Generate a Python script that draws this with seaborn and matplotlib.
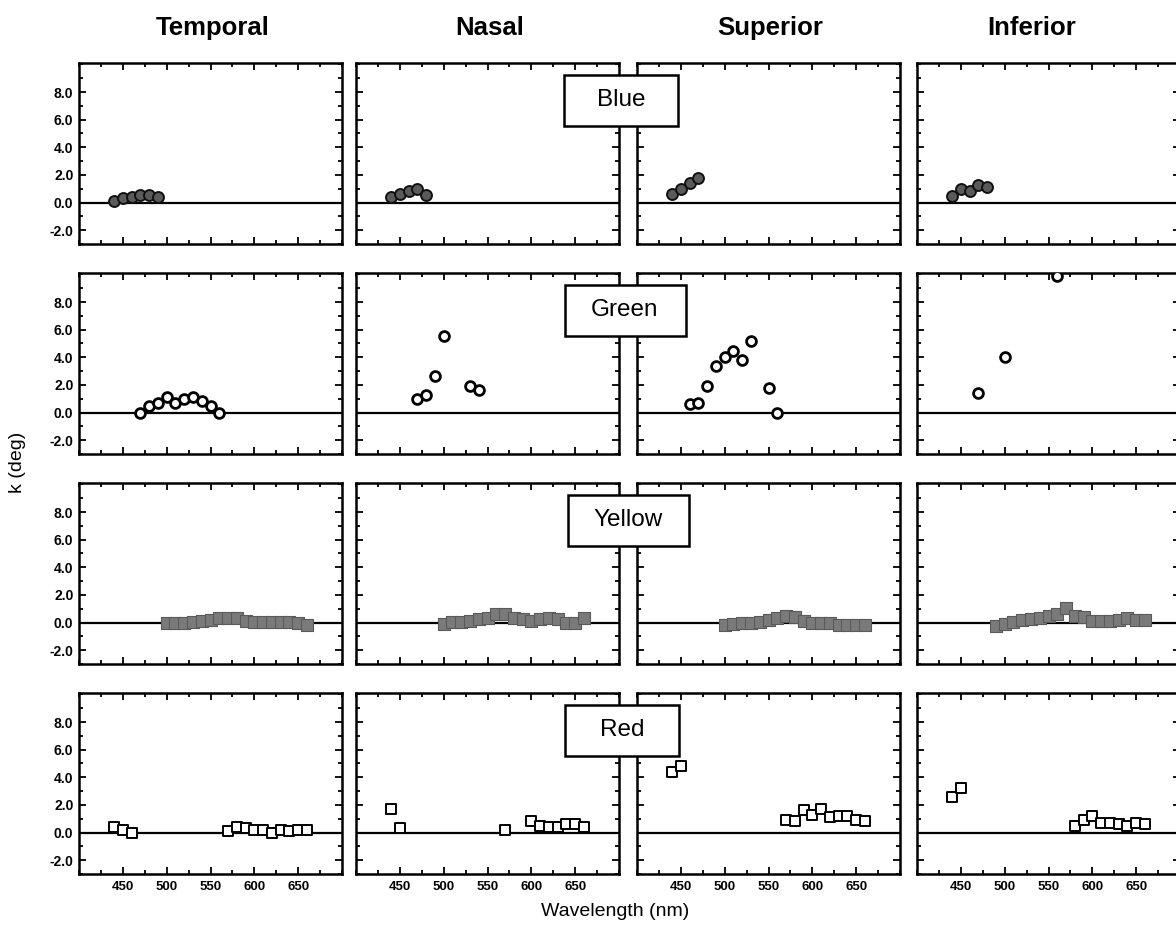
import matplotlib
matplotlib.use("Agg")
import matplotlib.pyplot as plt
import seaborn as sns
import pandas as pd
from matplotlib.ticker import MultipleLocator, FormatStrFormatter
from matplotlib.patches import Rectangle

# ---------------- data ----------------
regions = ["Temporal", "Nasal", "Superior", "Inferior"]
lights = ["Blue", "Green", "Yellow", "Red"]

blue_temporal_wl = [440, 450, 460, 470, 480, 490]
blue_temporal_k = [0.1, 0.3, 0.4, 0.55, 0.55, 0.4]
blue_nasal_wl = [440, 450, 460, 470, 480]
blue_nasal_k = [0.4, 0.6, 0.85, 1.0, 0.55]
blue_superior_wl = [440, 450, 460, 470]
blue_superior_k = [0.65, 1.0, 1.45, 1.8]
blue_inferior_wl = [440, 450, 460, 470, 480]
blue_inferior_k = [0.45, 1.0, 0.85, 1.3, 1.1]

green_temporal_wl = [470, 480, 490, 500, 510, 520, 530, 540, 550, 560]
green_temporal_k = [0.0, 0.45, 0.7, 1.1, 0.7, 0.95, 1.1, 0.8, 0.45, 0.0]
green_nasal_wl = [470, 480, 490, 500, 530, 540]
green_nasal_k = [1.0, 1.3, 2.65, 5.55, 1.95, 1.65]
green_superior_wl = [460, 470, 480, 490, 500, 510, 520, 530, 550, 560]
green_superior_k = [0.6, 0.7, 1.9, 3.4, 4.05, 4.45, 3.8, 5.15, 1.8, 0.0]
green_inferior_wl = [470, 500, 560]
green_inferior_k = [1.4, 4.05, 9.9]

yellow_wl = [500, 510, 520, 530, 540, 550, 560, 570, 580, 590,
             600, 610, 620, 630, 640, 650, 660]
yellow_temporal_k = [0.0, 0.0, 0.0, 0.05, 0.1, 0.2, 0.3, 0.35, 0.35, 0.1,
                     0.05, 0.05, 0.05, 0.05, 0.05, 0.0, -0.15]
yellow_nasal_k = [-0.1, 0.05, 0.05, 0.1, 0.25, 0.35, 0.6, 0.6, 0.35, 0.25,
                  0.1, 0.25, 0.3, 0.25, -0.05, -0.05, 0.3]
yellow_superior_k = [-0.2, -0.1, -0.05, -0.05, 0.05, 0.15, 0.35, 0.45, 0.4, 0.1,
                     0.0, -0.05, -0.05, -0.15, -0.2, -0.2, -0.2]
yellow_inferior_wl = [490, 500, 510, 520, 530, 540, 550, 560, 570, 580,
                      590, 600, 610, 620, 630, 640, 650, 660]
yellow_inferior_k = [-0.25, -0.1, 0.05, 0.2, 0.25, 0.3, 0.45, 0.6, 1.05, 0.5,
                     0.4, 0.1, 0.1, 0.1, 0.15, 0.3, 0.15, 0.15]

red_temporal_wl = [440, 450, 460, 570, 580, 590, 600, 610, 620, 630, 640, 650, 660]
red_temporal_k = [0.4, 0.2, 0.0, 0.1, 0.4, 0.3, 0.2, 0.2, 0.0, 0.2, 0.1, 0.2, 0.2]
red_nasal_wl = [440, 450, 570, 600, 610, 620, 630, 640, 650, 660]
red_nasal_k = [1.7, 0.3, 0.2, 0.8, 0.5, 0.4, 0.4, 0.6, 0.6, 0.4]
red_superior_wl = [440, 450, 570, 580, 590, 600, 610, 620, 630, 640, 650, 660]
red_superior_k = [4.4, 4.8, 0.9, 0.8, 1.6, 1.3, 1.7, 1.1, 1.2, 1.2, 0.9, 0.8]
red_inferior_wl = [440, 450, 580, 590, 600, 610, 620, 630, 640, 650, 660]
red_inferior_k = [2.6, 3.2, 0.5, 0.9, 1.2, 0.7, 0.7, 0.6, 0.5, 0.7, 0.6]

x_major = [450, 500, 550, 600, 650]
y_major = [-2, 0, 2, 4, 6, 8]

series = {
    ("Blue", "Temporal"): (blue_temporal_wl, blue_temporal_k),
    ("Blue", "Nasal"): (blue_nasal_wl, blue_nasal_k),
    ("Blue", "Superior"): (blue_superior_wl, blue_superior_k),
    ("Blue", "Inferior"): (blue_inferior_wl, blue_inferior_k),
    ("Green", "Temporal"): (green_temporal_wl, green_temporal_k),
    ("Green", "Nasal"): (green_nasal_wl, green_nasal_k),
    ("Green", "Superior"): (green_superior_wl, green_superior_k),
    ("Green", "Inferior"): (green_inferior_wl, green_inferior_k),
    ("Yellow", "Temporal"): (yellow_wl, yellow_temporal_k),
    ("Yellow", "Nasal"): (yellow_wl, yellow_nasal_k),
    ("Yellow", "Superior"): (yellow_wl, yellow_superior_k),
    ("Yellow", "Inferior"): (yellow_inferior_wl, yellow_inferior_k),
    ("Red", "Temporal"): (red_temporal_wl, red_temporal_k),
    ("Red", "Nasal"): (red_nasal_wl, red_nasal_k),
    ("Red", "Superior"): (red_superior_wl, red_superior_k),
    ("Red", "Inferior"): (red_inferior_wl, red_inferior_k),
}

rows = []
for (light, region), (wl, k) in series.items():
    for w, v in zip(wl, k):
        rows.append({"light": light, "region": region, "wl": w, "k": v})
df = pd.DataFrame(rows)

styles = {
    "Blue": dict(marker="o", s=62, color="#5a5a5a", edgecolor="#111111", linewidth=1.4),
    "Green": dict(marker="o", s=50, color="white", edgecolor="black", linewidth=2.0),
    "Yellow": dict(marker="s", s=78, color="#7a7a7a", edgecolor="#5a5a5a", linewidth=0.8),
    "Red": dict(marker="s", s=48, color="white", edgecolor="black", linewidth=1.4),
}

# ---------------- figure ----------------
sns.set_style("ticks")
plt.rcParams["font.family"] = ["Liberation Sans", "DejaVu Sans"]
plt.rcParams["text.color"] = "black"
plt.rcParams["xtick.color"] = "black"
plt.rcParams["ytick.color"] = "black"
plt.rcParams["axes.labelcolor"] = "black"

W, H = 1176, 932
fig = plt.figure(figsize=(W / 100, H / 100), dpi=100)

col_left = [79, 356, 637, 917]
row_top = [63, 273, 483, 693]
pw, ph = 263, 181

box_cx = [621, 625, 628, 622]
box_w = [114, 121, 121, 114]
box_h = 51

for i, light in enumerate(lights):
    for j, region in enumerate(regions):
        ax = fig.add_axes([col_left[j] / W, 1 - (row_top[i] + ph) / H, pw / W, ph / H])
        ax.axhline(0, color="black", lw=1.6, zorder=1)
        sub = df[(df.light == light) & (df.region == region)]
        sns.scatterplot(data=sub, x="wl", y="k", ax=ax, legend=False, zorder=3,
                        **styles[light])
        ax.set_xlim(400, 700)
        ax.set_ylim(-3, 10.1)
        ax.set_xticks(x_major)
        ax.set_yticks(y_major)
        ax.xaxis.set_minor_locator(MultipleLocator(25))
        ax.yaxis.set_minor_locator(MultipleLocator(1))
        ax.yaxis.set_major_formatter(FormatStrFormatter("%.1f"))
        ax.tick_params(which="both", direction="in", top=True, right=True, width=1.3,
                       colors="black")
        ax.tick_params(which="major", length=5)
        ax.tick_params(which="minor", length=3)
        ax.set_xlabel("")
        ax.set_ylabel("")
        for sp in ax.spines.values():
            sp.set_linewidth(1.8)
            sp.set_color("black")
        if i != 3:
            ax.set_xticklabels([])
        else:
            ax.tick_params(axis="x", labelsize=9.5, pad=5)
            for t in ax.get_xticklabels():
                t.set_fontweight("bold")
        if j != 0:
            ax.set_yticklabels([])
        else:
            ax.tick_params(axis="y", labelsize=10, pad=4)
            for t in ax.get_yticklabels():
                t.set_fontweight("bold")

    # row label box
    bx = box_cx[i] - box_w[i] / 2
    by = row_top[i] + 12
    rect = Rectangle((bx / W, 1 - (by + box_h) / H), box_w[i] / W, box_h / H,
                     transform=fig.transFigure, facecolor="white",
                     edgecolor="black", lw=1.8, zorder=10)
    fig.patches.append(rect)
    fig.text(box_cx[i] / W, 1 - (by + box_h / 2) / H, light, ha="center",
             va="center", fontsize=17.5, zorder=11)

title_x = [213, 490, 770, 1032]
for j, region in enumerate(regions):
    fig.text(title_x[j] / W, 1 - 28 / H, region, ha="center", va="center",
             fontsize=18.5, fontweight="bold")

fig.text(18 / W, 1 - 462 / H, "k (deg)", rotation=90, ha="center", va="center",
         fontsize=14)
fig.text(615 / W, 1 - 912 / H, "Wavelength (nm)", ha="center", va="center",
         fontsize=14)

fig.savefig("out.png", dpi=100, facecolor="white")
